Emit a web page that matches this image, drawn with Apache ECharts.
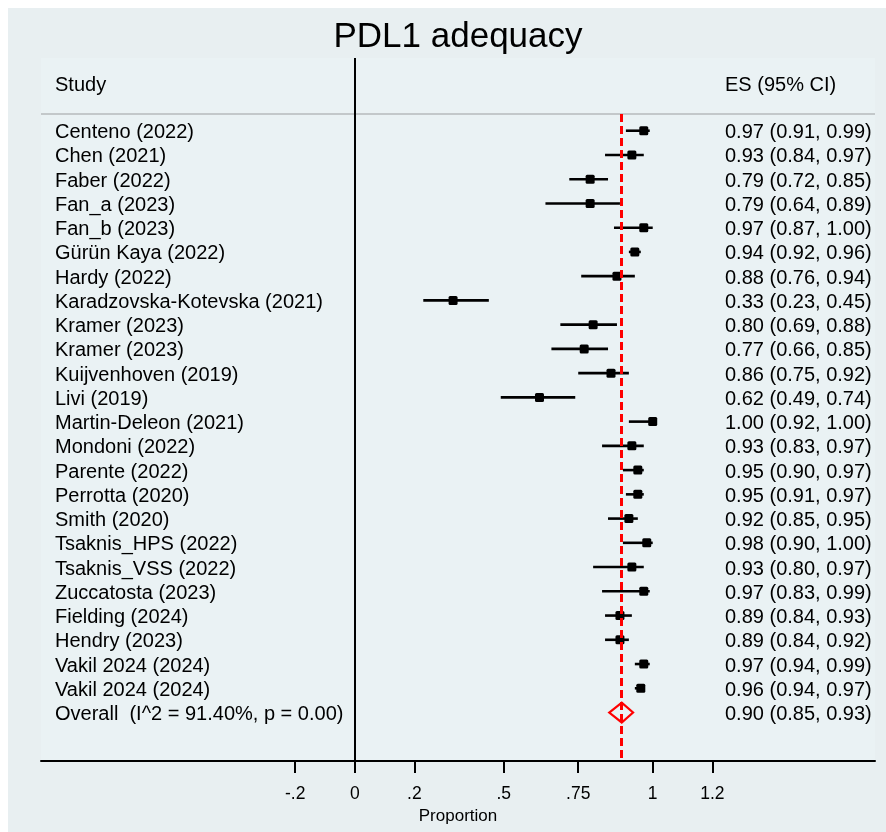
<!DOCTYPE html>
<html>
<head>
<meta charset="utf-8">
<title>PDL1 adequacy</title>
<script src="https://cdn.jsdelivr.net/npm/echarts@6/dist/echarts.min.js"></script>
<style>
html, body { margin: 0; padding: 0; background: #fff; }
#chart { width: 886px; height: 832px; }
</style>
</head>
<body>
<div id="chart"></div>
<script>
// study rows, top to bottom
const studies = [
    'Centeno (2022)', 'Chen (2021)', 'Faber (2022)', 'Fan_a (2023)', 'Fan_b (2023)',
    'Gürün Kaya (2022)', 'Hardy (2022)', 'Karadzovska-Kotevska (2021)', 'Kramer (2023)',
    'Kramer (2023)', 'Kuijvenhoven (2019)', 'Livi (2019)', 'Martin-Deleon (2021)',
    'Mondoni (2022)', 'Parente (2022)', 'Perrotta (2020)', 'Smith (2020)',
    'Tsaknis_HPS (2022)', 'Tsaknis_VSS (2022)', 'Zuccatosta (2023)', 'Fielding (2024)',
    'Hendry (2023)', 'Vakil 2024 (2024)', 'Vakil 2024 (2024)'
]
const es = [0.97, 0.93, 0.79, 0.79, 0.97, 0.94, 0.88, 0.33, 0.80, 0.77, 0.86, 0.62,
    1.00, 0.93, 0.95, 0.95, 0.92, 0.98, 0.93, 0.97, 0.89, 0.89, 0.97, 0.96]
const ciLow = [0.91, 0.84, 0.72, 0.64, 0.87, 0.92, 0.76, 0.23, 0.69, 0.66, 0.75, 0.49,
    0.92, 0.83, 0.90, 0.91, 0.85, 0.90, 0.80, 0.83, 0.84, 0.84, 0.94, 0.94]
const ciHigh = [0.99, 0.97, 0.85, 0.89, 1.00, 0.96, 0.94, 0.45, 0.88, 0.85, 0.92, 0.74,
    1.00, 0.97, 0.97, 0.97, 0.95, 1.00, 0.97, 0.99, 0.93, 0.92, 0.99, 0.97]

const overallLabel = 'Overall  (I^2 = 91.40%, p = 0.00)'
const overallEs = 0.896
const overallLow = 0.854
const overallHigh = 0.934

const tickValues = [-0.2, 0, 0.2, 0.5, 0.75, 1, 1.2]
const tickLabels = ['-.2', '0', '.2', '.5', '.75', '1', '1.2']

const FONT = '"Liberation Sans", Arial, Helvetica, sans-serif'
const overallRow = studies.length

const fmt = (v) => v.toFixed(2)
const esText = (e, l, h) => fmt(e) + ' (' + fmt(l) + ', ' + fmt(h) + ')'

const rows = studies.map((s, i) => [i, es[i], ciLow[i], ciHigh[i]])
const textRows = studies.map((s, i) => [i]).concat([[overallRow]])
const textLeft = studies.concat([overallLabel])
const textRight = studies.map((s, i) => esText(es[i], ciLow[i], ciHigh[i]))
    .concat([esText(overallEs, overallLow, overallHigh)])

const chart = echarts.init(document.getElementById('chart'))

chart.setOption({
    backgroundColor: '#ffffff',
    animation: false,
    graphic: [
        {
            type: 'rect', z: -10, silent: true,
            shape: {x: 8, y: 8, width: 878, height: 824},
            style: {fill: '#e8eff1'}
        },
        {
            type: 'text', z: 10,
            style: {
                text: 'PDL1 adequacy', x: 458, y: 37, align: 'center', verticalAlign: 'middle',
                font: '35px ' + FONT, fill: '#000'
            }
        },
        {
            type: 'text', z: 10,
            style: {text: 'Study', x: 55, y: 85, font: '20px ' + FONT, fill: '#000', verticalAlign: 'middle'}
        },
        {
            type: 'text', z: 10,
            style: {text: 'ES (95% CI)', x: 725, y: 85, font: '20px ' + FONT, fill: '#000', verticalAlign: 'middle'}
        }
    ],
    grid: {
        left: 41,
        right: 11,
        top: 58,
        bottom: 71,
        show: true,
        backgroundColor: '#eaf2f4',
        borderWidth: 0
    },
    xAxis: {
        type: 'value',
        min: -1.053,
        max: 1.746,
        name: 'Proportion',
        nameLocation: 'middle',
        nameGap: 41,
        nameTextStyle: {fontFamily: FONT, fontSize: 17, color: '#000'},
        axisLine: {onZero: false, lineStyle: {color: '#000', width: 2}},
        axisTick: {
            customValues: tickValues,
            length: 12,
            lineStyle: {color: '#000', width: 2}
        },
        axisLabel: {
            customValues: tickValues,
            margin: 24,
            fontFamily: FONT,
            fontSize: 17.5,
            color: '#000',
            formatter: (v) => {
                const k = tickValues.findIndex(t => Math.abs(t - v) < 1e-9)
                return k >= 0 ? tickLabels[k] : ''
            }
        },
        splitLine: {show: false}
    },
    yAxis: {
        type: 'value',
        inverse: true,
        min: -3,
        max: 26,
        show: false
    },
    series: [
        {
            // reference lines
            type: 'line',
            data: [],
            z: 1,
            silent: true,
            markLine: {
                symbol: 'none',
                silent: true,
                label: {show: false},
                data: [
                    {yAxis: -0.69, lineStyle: {color: '#c3c8ca', width: 2, type: 'solid'}},
                    {xAxis: 0, lineStyle: {color: '#000', width: 2, type: 'solid'}},
                    [
                        {coord: [overallEs, -0.69], lineStyle: {color: '#ff0000', width: 3, type: [8, 4]}},
                        {coord: [overallEs, 26]}
                    ]
                ]
            }
        },
        {
            // study estimates with CI
            type: 'custom',
            z: 3,
            data: rows,
            renderItem: (params, api) => {
                const i = api.value(0)
                const c = api.coord([api.value(1), i])
                const p = api.coord([api.value(2), i])
                const q = api.coord([api.value(3), i])
                const s = 9
                return {
                    type: 'group',
                    children: [
                        {
                            type: 'line',
                            shape: {x1: p[0], y1: p[1], x2: q[0], y2: q[1]},
                            style: {stroke: '#000', lineWidth: 2.6}
                        },
                        {
                            type: 'rect',
                            shape: {x: c[0] - s / 2, y: c[1] - s / 2, width: s, height: s, r: 1.5},
                            style: {fill: '#000'}
                        }
                    ]
                }
            }
        },
        {
            // overall diamond
            type: 'custom',
            z: 3,
            data: [[overallRow, overallEs, overallLow, overallHigh]],
            renderItem: (params, api) => {
                const i = api.value(0)
                const l = api.coord([api.value(2), i])
                const r = api.coord([api.value(3), i])
                const t = api.coord([api.value(1), i - 0.41])
                const b = api.coord([api.value(1), i + 0.41])
                return {
                    type: 'polygon',
                    shape: {points: [l, t, r, b]},
                    style: {fill: 'none', stroke: '#ff0000', lineWidth: 2.2}
                }
            }
        },
        {
            // text columns
            type: 'custom',
            z: 4,
            data: textRows,
            renderItem: (params, api) => {
                const y = api.coord([0, api.value(0)])[1] + 2
                return {
                    type: 'group',
                    children: [
                        {
                            type: 'text',
                            style: {
                                x: 55, y: y, text: textLeft[params.dataIndex],
                                font: '20px ' + FONT, fill: '#000', verticalAlign: 'middle'
                            }
                        },
                        {
                            type: 'text',
                            style: {
                                x: 725, y: y, text: textRight[params.dataIndex],
                                font: '20px ' + FONT, fill: '#000', verticalAlign: 'middle'
                            }
                        }
                    ]
                }
            }
        }
    ]
})
</script>
</body>
</html>
